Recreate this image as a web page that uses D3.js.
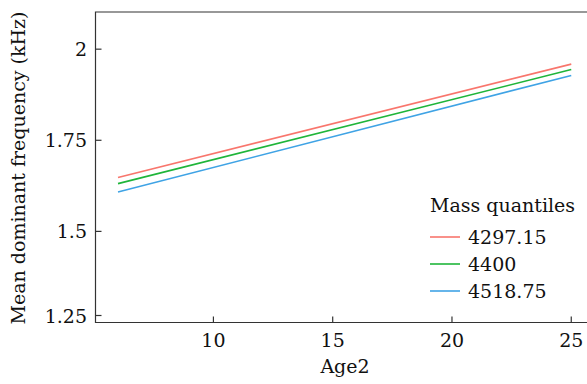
<!DOCTYPE html>
<html>
<head>
<meta charset="utf-8">
<script src="https://cdn.jsdelivr.net/npm/d3@7"></script>
<style>
  body { margin: 0; background: #fff; }
  text { font-family: "DejaVu Serif", serif; fill: #111; }
</style>
</head>
<body>
<div id="chart"></div>
<script>
(function () {

  // mass quantiles (legend labels) and their colours
  var quantiles = ["4297.15", "4400", "4518.75"],
    colors = ["#F8766D", "#1FB53A", "#3FA3E5"],
    // Age2 at both ends of each fitted line
    ages = [6, 25],
    // mean dominant frequency (kHz) at age 6 and 25, one pair per quantile
    startVals = [1.648, 1.631, 1.608],
    endVals = [1.959, 1.944, 1.928],
    xTicks = [10, 15, 20, 25],
    yTicks = [1.25, 1.5, 1.75, 2];

  var w = 587,
    h = 384,
    left = 95.5,
    top = 12,
    bottom = 322.5,
    right = 587,
    fs = "19px";

  var svg = d3.select("#chart")
    .append("svg")
    .attr("width", w)
    .attr("height", h);

  var x = d3.scaleLinear().domain([5.057, 25.66]).range([left, right]);
  var y = d3.scaleLinear().domain([1.25, 2.102]).range([bottom, top]);

  // frame: left + bottom axis lines and top border
  svg.append("path")
    .attr("d", "M" + right + "," + top + "H" + left + "V" + bottom + "H" + right)
    .attr("fill", "none")
    .attr("stroke", "#333")
    .attr("stroke-width", 1.2);

  // x ticks
  var xg = svg.append("g");
  xTicks.forEach(function (t) {
    xg.append("line")
      .attr("x1", x(t)).attr("x2", x(t))
      .attr("y1", bottom).attr("y2", bottom - 6)
      .attr("stroke", "#333").attr("stroke-width", 1.2);
    xg.append("text")
      .attr("x", x(t)).attr("y", 347)
      .attr("text-anchor", "middle")
      .style("font-size", fs)
      .text(t);
  });

  // y ticks (the lowest one sits a little above the x axis as in the original)
  var yg = svg.append("g");
  yTicks.forEach(function (t) {
    var yy = y(t) - (t === 1.25 ? 7 : 0);
    yg.append("line")
      .attr("x1", left).attr("x2", left + 6)
      .attr("y1", yy).attr("y2", yy)
      .attr("stroke", "#333").attr("stroke-width", 1.2);
    yg.append("text")
      .attr("x", 87).attr("y", yy + 7)
      .attr("text-anchor", "end")
      .style("font-size", fs)
      .text(t);
  });

  // axis titles
  svg.append("text")
    .attr("x", 345).attr("y", 373)
    .attr("text-anchor", "middle")
    .style("font-size", fs)
    .text("Age2");

  svg.append("text")
    .attr("transform", "translate(25," + 168 + ") rotate(-90)")
    .attr("text-anchor", "middle")
    .style("font-size", fs)
    .text("Mean dominant frequency (kHz)");

  // fitted lines
  var line = d3.line()
    .x(function (d) { return x(d[0]); })
    .y(function (d) { return y(d[1]); });

  quantiles.forEach(function (q, i) {
    svg.append("path")
      .datum([[ages[0], startVals[i]], [ages[1], endVals[i]]])
      .attr("d", line)
      .attr("fill", "none")
      .attr("stroke", colors[i])
      .attr("stroke-width", 1.6);
  });

  // legend
  var lg = svg.append("g").attr("transform", "translate(430,0)");
  lg.append("text")
    .attr("x", 0).attr("y", 212)
    .style("font-size", fs)
    .text("Mass quantiles");
  quantiles.forEach(function (q, i) {
    var yy = 237 + i * 27;
    lg.append("line")
      .attr("x1", 0).attr("x2", 30)
      .attr("y1", yy).attr("y2", yy)
      .attr("stroke", colors[i])
      .attr("stroke-width", 1.6);
    lg.append("text")
      .attr("x", 38).attr("y", yy + 7)
      .style("font-size", fs)
      .text(q);
  });

})();
</script>
</body>
</html>
